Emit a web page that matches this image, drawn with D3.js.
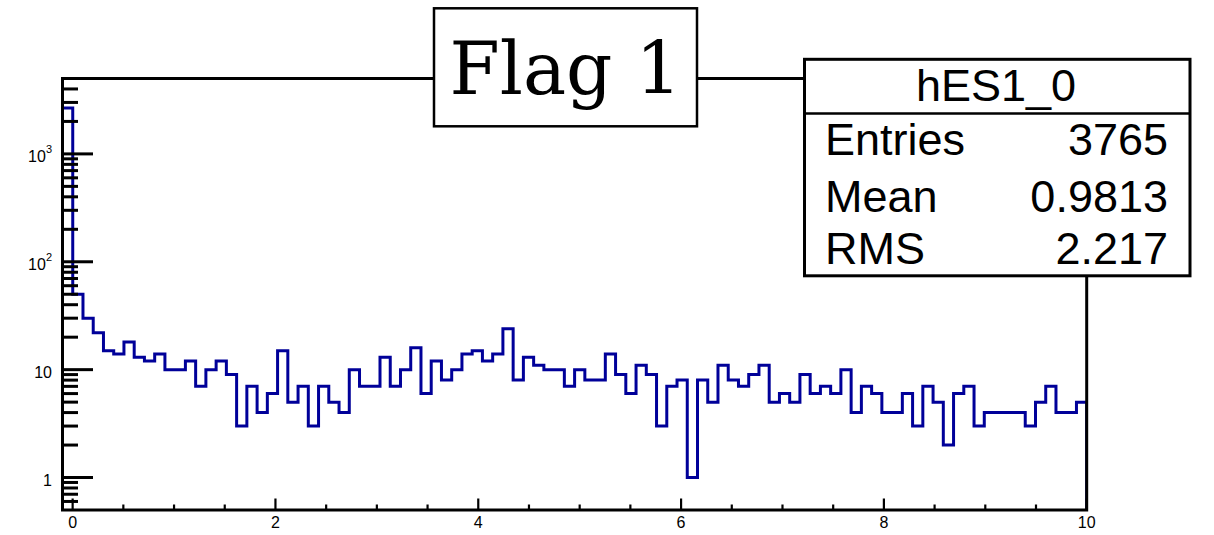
<!DOCTYPE html>
<html>
<head>
<meta charset="utf-8">
<script src="https://cdn.jsdelivr.net/npm/d3@7"></script>
<style>
  html, body { margin: 0; padding: 0; background: #ffffff; }
  svg { display: block; }
  text { fill: #000; }
</style>
</head>
<body>
<svg id="chart" width="1214" height="535"></svg>
<script>
// Histogram hES1_0: 100 bins spanning [-0.1, 10]
const xMin = -0.1;
const xMax = 10;
const nBins = 100;
const counts = [
  2660,
  50, 30, 22, 15, 14, 18, 13, 12, 14, 10,
  10, 12, 7, 10, 12, 9, 3, 7, 4, 6,
  15, 5, 7, 3, 7, 5, 4, 10, 7, 7,
  13, 7, 10, 16, 6, 12, 8, 10, 14, 15,
  12, 14, 24, 8, 13, 11, 10, 10, 7, 10,
  8, 8, 14, 9, 6, 11, 9, 3, 7, 8,
  1, 8, 5, 11, 8, 7, 9, 11, 5, 6,
  5, 9, 6, 7, 6, 10, 4, 7, 6, 4,
  4, 6, 3, 7, 5, 2, 6, 7, 3, 4,
  4, 4, 4, 3, 5, 7, 4, 4, 5
];
const yMin = 0.5;
const yMax = 5000;

// Axis ticks and labels
const xMajorTicks = [0, 2, 4, 6, 8, 10];
const xMinorTicks = [0.5, 1, 1.5, 2.5, 3, 3.5, 4.5, 5, 5.5, 6.5, 7, 7.5, 8.5, 9, 9.5];
const yMajorTicks = [1, 10, 100, 1000];
const yLabelBase = ["1", "10", "10", "10"];
const yLabelExp = ["", "", "2", "3"];

// Title and statistics box text
const titleText = "Flag 1";
const statsName = "hES1_0";
const statsKeys = ["Entries", "Mean", "RMS"];
const statsValues = ["3765", "0.9813", "2.217"];

const sans = "'Liberation Sans', Arial, Helvetica, sans-serif";
const frame = { left: 62.5, right: 1086.7, top: 78.5, bottom: 510 };
const svg = d3.select("#chart");

const x = d3.scaleLinear().domain([xMin, xMax]).range([frame.left, frame.right]);
const y = d3.scaleLog().domain([yMin, yMax]).range([frame.bottom, frame.top]);

// Histogram outline as a step path
const binW = (xMax - xMin) / nBins;
const pts = [[x(xMin), y(yMin)]];
counts.forEach((c, i) => {
  const lo = xMin + i * binW, hi = xMin + (i + 1) * binW;
  pts.push([x(lo), y(c)], [x(hi), y(c)]);
});
pts.push([x(xMax), y(yMin)]);

svg.append("clipPath").attr("id", "plotclip")
  .append("rect")
  .attr("x", frame.left).attr("y", frame.top)
  .attr("width", frame.right - frame.left).attr("height", frame.bottom - frame.top);

svg.append("path")
  .attr("clip-path", "url(#plotclip)")
  .attr("d", d3.line()(pts))
  .attr("fill", "none")
  .attr("stroke", "#000099")
  .attr("stroke-width", 3)
  .attr("stroke-linejoin", "miter");

// Log-axis ticks: 1..9 per decade inside the domain
const yAllTicks = [];
for (let e = -1; e <= 3; e++) {
  for (let k = 1; k <= 9; k++) {
    const v = k * Math.pow(10, e);
    if (v > yMin && v < yMax) yAllTicks.push(v);
  }
}
const g = svg.append("g");
g.selectAll("line.ytick").data(yAllTicks).join("line")
  .attr("x1", frame.left)
  .attr("x2", d => frame.left + (yMajorTicks.includes(d) ? 30.5 : 15.5))
  .attr("y1", d => y(d)).attr("y2", d => y(d))
  .attr("stroke", "#000").attr("stroke-width", 3);

g.selectAll("line.xmaj").data(xMajorTicks).join("line")
  .attr("x1", d => x(d)).attr("x2", d => x(d))
  .attr("y1", frame.bottom).attr("y2", frame.bottom - 11.5)
  .attr("stroke", "#000").attr("stroke-width", 2.2);
g.selectAll("line.xmin").data(xMinorTicks).join("line")
  .attr("x1", d => x(d)).attr("x2", d => x(d))
  .attr("y1", frame.bottom).attr("y2", frame.bottom - 5.5)
  .attr("stroke", "#000").attr("stroke-width", 2.2);

// Frame
svg.append("rect")
  .attr("x", frame.left).attr("y", frame.top)
  .attr("width", frame.right - frame.left).attr("height", frame.bottom - frame.top)
  .attr("fill", "none").attr("stroke", "#000").attr("stroke-width", 3);

// Axis labels
svg.selectAll("text.xlab").data(xMajorTicks).join("text")
  .attr("x", d => x(d)).attr("y", 528)
  .attr("text-anchor", "middle")
  .style("font-family", sans).style("font-size", "16px")
  .text(d => d);

const ylab = svg.selectAll("text.ylab").data(yMajorTicks).join("text")
  .attr("x", 52).attr("y", d => y(d) + 8)
  .attr("text-anchor", "end")
  .style("font-family", sans).style("font-size", "16px");
ylab.append("tspan").text((d, i) => yLabelBase[i]);
ylab.filter((d, i) => yLabelExp[i] !== "").append("tspan")
  .style("font-size", "11px").attr("dy", -9)
  .text(d => yLabelExp[yMajorTicks.indexOf(d)]);

// Title box
const tb = { x: 434, y: 8.3, w: 263, h: 118 };
svg.append("rect")
  .attr("x", tb.x).attr("y", tb.y).attr("width", tb.w).attr("height", tb.h)
  .attr("fill", "#fff").attr("stroke", "#000").attr("stroke-width", 2.5);
svg.append("text")
  .attr("x", tb.x + tb.w / 2).attr("y", 93.5)
  .attr("text-anchor", "middle")
  .style("font-family", "'DejaVu Serif', serif")
  .style("font-size", "72px")
  .attr("textLength", 232)
  .attr("lengthAdjust", "spacingAndGlyphs")
  .text(titleText);

// Statistics box
const sb = { x: 804.5, y: 59.3, w: 385.5, h: 216.5, sep: 113.5 };
svg.append("rect")
  .attr("x", sb.x).attr("y", sb.y).attr("width", sb.w).attr("height", sb.h)
  .attr("fill", "#fff").attr("stroke", "#000").attr("stroke-width", 3);
svg.append("line")
  .attr("x1", sb.x).attr("x2", sb.x + sb.w)
  .attr("y1", sb.sep).attr("y2", sb.sep)
  .attr("stroke", "#000").attr("stroke-width", 2.5);
svg.append("text")
  .attr("x", 996).attr("y", 100.7)
  .attr("text-anchor", "middle")
  .style("font-family", sans).style("font-size", "45px")
  .text(statsName);
const rowY = [155, 211.5, 263.5];
statsKeys.forEach((k, i) => {
  svg.append("text").attr("x", 825).attr("y", rowY[i])
    .style("font-family", sans).style("font-size", "45px").text(k);
  svg.append("text").attr("x", 1168).attr("y", rowY[i])
    .attr("text-anchor", "end")
    .style("font-family", sans).style("font-size", "45px").text(statsValues[i]);
});
</script>
</body>
</html>
